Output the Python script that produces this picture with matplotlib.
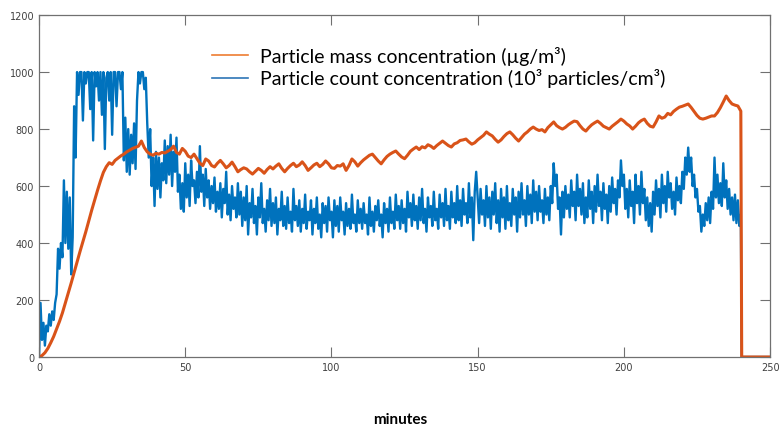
import numpy as np
import matplotlib

matplotlib.use("Agg")
import matplotlib.pyplot as plt  # noqa: E402
from matplotlib.lines import Line2D  # noqa: E402

# particle count, sampled every 0.5 min (10^3 particles/cm3)
count_vals = [
    0, 190, 60, 120, 40, 110, 90, 150, 110, 160, 130, 190, 220, 380, 310, 400, 350, 620, 400, 580,
    380, 560, 290, 420, 880, 700, 1000, 920, 1000, 1000, 830, 1000, 960, 1000, 1000, 870, 1000, 760, 1000, 950,
    1000, 900, 1000, 850, 1000, 730, 980, 1000, 900, 1000, 780, 1000, 1000, 880, 1000, 1000, 940, 1000, 690, 840,
    650, 800, 640, 780, 680, 820, 660, 900, 1000, 960, 1000, 1000, 940, 980, 820, 700, 800, 600, 700, 530,
    720, 590, 700, 560, 680, 620, 760, 610, 740, 640, 780, 600, 720, 650, 770, 580, 640, 520, 610, 510,
    680, 560, 640, 530, 690, 600, 620, 540, 650, 560, 740, 580, 640, 530, 660, 560, 620, 520, 600, 540,
    630, 510, 580, 520, 610, 490, 590, 540, 650, 500, 570, 480, 600, 520, 560, 490, 610, 500, 580, 460,
    560, 480, 600, 430, 540, 490, 590, 470, 530, 430, 560, 490, 610, 470, 520, 440, 550, 480, 590, 460,
    540, 470, 560, 430, 520, 480, 580, 460, 530, 450, 560, 470, 510, 440, 590, 480, 530, 460, 550, 440,
    520, 470, 570, 450, 510, 480, 550, 430, 520, 470, 560, 450, 500, 420, 540, 470, 530, 440, 560, 480,
    510, 420, 550, 460, 530, 440, 560, 480, 510, 430, 540, 460, 520, 450, 570, 470, 500, 440, 550, 470,
    520, 450, 540, 470, 500, 430, 560, 460, 510, 440, 530, 480, 550, 460, 500, 420, 540, 470, 520, 440,
    560, 470, 510, 450, 570, 480, 530, 450, 550, 470, 520, 440, 580, 490, 540, 460, 570, 480, 530, 450,
    560, 480, 590, 470, 520, 440, 560, 490, 530, 460, 580, 480, 520, 450, 570, 490, 540, 460, 590, 480,
    530, 450, 580, 490, 540, 470, 600, 480, 550, 460, 590, 500, 540, 470, 610, 490, 560, 410, 580, 650,
    560, 470, 590, 500, 550, 460, 600, 490, 560, 450, 580, 500, 610, 470, 550, 440, 590, 490, 560, 450,
    600, 480, 540, 460, 590, 500, 560, 440, 580, 490, 610, 500, 550, 460, 600, 500, 570, 470, 620, 510,
    580, 480, 600, 510, 550, 470, 590, 500, 560, 480, 600, 540, 680, 600, 640, 520, 560, 430, 580, 490,
    600, 520, 570, 490, 620, 530, 580, 480, 640, 530, 590, 500, 610, 470, 560, 490, 620, 520, 580, 470,
    600, 510, 640, 530, 580, 480, 610, 520, 570, 470, 600, 510, 630, 540, 590, 500, 620, 560, 690, 600,
    640, 520, 590, 490, 620, 530, 580, 470, 640, 540, 600, 500, 650, 540, 590, 480, 560, 460, 540, 440,
    580, 500, 620, 530, 590, 490, 640, 540, 600, 510, 650, 560, 610, 520, 580, 500, 630, 550, 600, 540,
    650, 590, 700, 640, 735, 650, 700, 600, 640, 560, 590, 510, 530, 440, 500, 460, 540, 480, 560, 470,
    580, 520, 700, 560, 640, 540, 610, 530, 680, 560, 620, 520, 590, 500, 560, 480, 570, 470, 550, 460,
    500,
]
count_min = list(np.arange(0, 240.5, 0.5)) + [240.3, 250]
count_vals = count_vals + [0, 0]

# particle mass, sampled every 1 min (ug/m3)
mass_vals = [
    0, 5, 15, 30, 50, 72, 98, 125, 155, 190,
    225, 260, 297, 333, 370, 405, 440, 478, 515, 550,
    585, 618, 648, 668, 682, 676, 690, 698, 706, 712,
    720, 726, 732, 736, 740, 758, 735, 720, 712, 708,
    715, 712, 718, 716, 722, 728, 740, 718, 712, 732,
    722, 705, 700, 712, 696, 680, 672, 695, 688, 672,
    667, 680, 690, 678, 664, 672, 684, 668, 650, 658,
    664, 660, 650, 642, 652, 662, 655, 645, 658, 668,
    660, 670, 678, 662, 650, 662, 672, 680, 668, 674,
    685, 672, 655, 664, 674, 680, 668, 676, 688, 678,
    664, 662, 672, 670, 678, 655, 672, 695, 685, 670,
    682, 692, 700, 708, 712, 700, 688, 678, 692, 704,
    712, 718, 723, 712, 702, 696, 708, 722, 730, 737,
    728, 738, 734, 745, 740, 732, 742, 750, 758, 750,
    742, 737, 748, 752, 760, 762, 765, 755, 747, 752,
    762, 770, 778, 790, 782, 776, 764, 754, 762, 774,
    784, 790, 780, 768, 758, 770, 782, 790, 800, 807,
    800, 795, 798, 790, 805, 815, 825, 812, 805, 800,
    806, 815, 822, 828, 826, 812, 800, 793, 805, 815,
    822, 828, 820, 810, 805, 800, 810, 818, 826, 835,
    828, 818, 811, 800, 810, 822, 830, 835, 820, 810,
    807, 825, 846, 838, 842, 855, 850, 862, 870, 877,
    880, 884, 888, 876, 862, 848, 838, 835, 838, 842,
    846, 846, 858, 875, 895, 916, 900, 888, 884, 881,
    863,
]
mass_min = list(range(0, 241)) + [240.3, 250]
mass_vals = mass_vals + [0, 0]

x_ticks = [0, 50, 100, 150, 200, 250]
y_ticks = [0, 200, 400, 600, 800, 1000, 1200]
labels = ["Particle mass concentration (\u00b5g/m\u00b3)",
          "Particle count concentration (10\u00b3 particles/cm\u00b3)"]

fig = plt.figure(figsize=(7.81, 4.35), dpi=100)
ax = fig.add_axes([0.050, 0.177, 0.936, 0.786])

ax.plot(count_min, count_vals, color="#0072BD", lw=1.7)
ax.plot(mass_min, mass_vals, color="#D95319", lw=2.2)

ax.set_xlim(0, 250)
ax.set_ylim(0, 1200)
ax.set_xticks(x_ticks)
ax.set_yticks(y_ticks)
ax.tick_params(direction="in", top=True, right=True, length=7, width=0.8,
               colors="#707070", labelcolor="#404040", labelsize=7)
for s in ax.spines.values():
    s.set_color("#707070")
    s.set_linewidth(0.9)

handles = [Line2D([], [], color="#ED7D31", lw=1.2),
           Line2D([], [], color="#2E75B6", lw=1.2)]
ax.legend(handles, labels, loc="upper left", bbox_to_anchor=(0.212, 0.962),
          frameon=False, handlelength=1.9, handletextpad=0.6, labelspacing=0.2,
          prop={"family": "Lato", "size": 14})

fig.text(400 / 781, 1 - 420 / 435, "minutes", ha="center", va="center",
         family="Lato", weight="bold", fontsize=11)

fig.savefig("out.png", dpi=100)
